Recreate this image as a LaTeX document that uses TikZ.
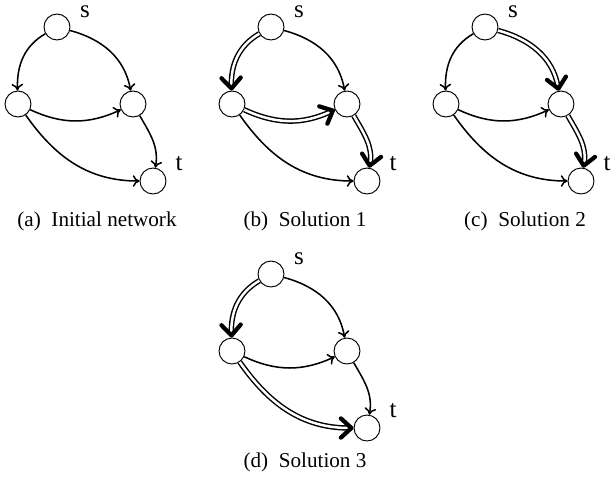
\documentclass[tikz,border=0pt]{standalone}
\usepackage{fontspec}
\setmainfont{Liberation Serif}
\newfontfamily\figfont{Liberation Serif}
\usetikzlibrary{arrows.meta}

\begin{document}
\begin{tikzpicture}
[x=0.52pt,y=-0.52pt,%
  every node/.style={shape=circle,inner sep=0pt,minimum size=13.5pt,draw,line width=0.5pt},%
  plain/.style={line width=0.8pt,-{To[length=3.5pt,width=6pt]}},%
  chosen/.style={line width=0.75pt,double,double distance=1.3pt,%
    -{Straight Barb[length=5.5pt,width=10pt,line width=2.2pt,round]}},%
  lbl/.style={draw=none,rectangle,inner sep=0pt,font=\figfont\fontsize{13}{15}\selectfont},%
  subcap/.style={draw=none,rectangle,inner sep=0pt,font=\figfont\fontsize{11}{13}\selectfont}]
\useasboundingbox (0,0) rectangle (612,482);

% (a) initial network
\node (sa) at (57,27) {};
\node (la) at (18,104) {};
\node (ra) at (133,104) {};
\node (ta) at (153,181) {};
\node[lbl] (lsa) at (85,12) {s};
\node[lbl] (lta) at (179,164) {t};
\draw[plain] (sa) to[out=210,in=92] (la);
\draw[plain] (sa) to[out=-15,in=100] (ra);
\draw[plain] (la) to[out=-25,in=205] (ra);
\draw[plain] (la) to[out=-55,in=180] (ta);
\draw[plain] (ra) to[out=-60,in=80] (ta);
\node[subcap] (capa) at (97,221) {(a)\enspace Initial network};

% (b) solution 1
\node (sb) at (271,27) {};
\node (lb) at (232,104) {};
\node (rb) at (347,104) {};
\node (tb) at (367,181) {};
\node[lbl] (lsb) at (299,12) {s};
\node[lbl] (ltb) at (393,164) {t};
\draw[chosen] (sb) to[out=210,in=92] (lb);
\draw[plain] (sb) to[out=-15,in=100] (rb);
\draw[chosen] (lb) to[out=-25,in=205] (rb);
\draw[plain] (lb) to[out=-55,in=180] (tb);
\draw[chosen] (rb) to[out=-60,in=80] (tb);
\node[subcap] (capb) at (305,221) {(b)\enspace Solution 1};

% (c) solution 2
\node (sc) at (485,27) {};
\node (lc) at (446,104) {};
\node (rc) at (561,104) {};
\node (tc) at (581,181) {};
\node[lbl] (lsc) at (513,12) {s};
\node[lbl] (ltc) at (607,164) {t};
\draw[plain] (sc) to[out=210,in=92] (lc);
\draw[chosen] (sc) to[out=-15,in=100] (rc);
\draw[plain] (lc) to[out=-25,in=205] (rc);
\draw[plain] (lc) to[out=-55,in=180] (tc);
\draw[chosen] (rc) to[out=-60,in=80] (tc);
\node[subcap] (capc) at (525,221) {(c)\enspace Solution 2};

% (d) solution 3
\node (sd) at (271,274) {};
\node (ld) at (232,351) {};
\node (rd) at (347,351) {};
\node (td) at (367,428) {};
\node[lbl] (lsd) at (299,259) {s};
\node[lbl] (ltd) at (393,411) {t};
\draw[chosen] (sd) to[out=210,in=92] (ld);
\draw[plain] (sd) to[out=-15,in=100] (rd);
\draw[plain] (ld) to[out=-25,in=205] (rd);
\draw[chosen] (ld) to[out=-55,in=180] (td);
\draw[plain] (rd) to[out=-60,in=80] (td);
\node[subcap] (capd) at (305,462) {(d)\enspace Solution 3};
\end{tikzpicture}
\end{document}
